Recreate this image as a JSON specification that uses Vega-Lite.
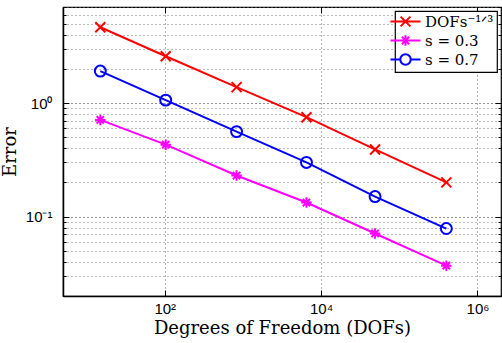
{
  "$schema": "https://vega.github.io/schema/vega-lite/v6.json",
  "width": 438,
  "height": 289,
  "autosize": {"type": "none"},
  "padding": {"left": 63, "top": 7, "right": 1, "bottom": 47},
  "background": "white",
  "config": {
    "view": {"stroke": "black", "strokeWidth": 1.2},
    "font": "Liberation Sans",
    "legend": {
      "strokeColor": "black", "strokeWidth": 1.2, "fillColor": "white",
      "labelFont": "DejaVu Serif", "labelFontSize": 15, "labelFontWeight": "normal", "labelColor": "black"
    }
  },
  "data": {
    "values": [
      {"series": "DOFs⁻¹ᐟ³", "dofs": 15, "error": 4.64},
      {"series": "DOFs⁻¹ᐟ³", "dofs": 103, "error": 2.58},
      {"series": "DOFs⁻¹ᐟ³", "dofs": 830, "error": 1.38},
      {"series": "DOFs⁻¹ᐟ³", "dofs": 6500, "error": 0.75},
      {"series": "DOFs⁻¹ᐟ³", "dofs": 49000, "error": 0.39},
      {"series": "DOFs⁻¹ᐟ³", "dofs": 400000, "error": 0.20},
      {"series": "s = 0.3", "dofs": 15, "error": 0.71},
      {"series": "s = 0.3", "dofs": 103, "error": 0.43},
      {"series": "s = 0.3", "dofs": 830, "error": 0.23},
      {"series": "s = 0.3", "dofs": 6500, "error": 0.133},
      {"series": "s = 0.3", "dofs": 49000, "error": 0.071},
      {"series": "s = 0.3", "dofs": 400000, "error": 0.037},
      {"series": "s = 0.7", "dofs": 15, "error": 1.91},
      {"series": "s = 0.7", "dofs": 103, "error": 1.06},
      {"series": "s = 0.7", "dofs": 830, "error": 0.56},
      {"series": "s = 0.7", "dofs": 6500, "error": 0.30},
      {"series": "s = 0.7", "dofs": 49000, "error": 0.15},
      {"series": "s = 0.7", "dofs": 400000, "error": 0.0785}
    ]
  },
  "layer": [
    {
      "mark": {"type": "line", "strokeWidth": 2},
      "encoding": {
        "x": {
          "field": "dofs", "type": "quantitative",
          "scale": {"type": "log", "domain": [5, 2000000], "nice": false},
          "axis": {
            "orient": "bottom",
            "values": [100, 10000, 1000000],
            "labelExpr": "datum.value == 100 ? '10²' : datum.value == 10000 ? '10⁴' : '10⁶'",
            "labelFontSize": 15, "labelColor": "black", "labelPadding": 11,
            "labelFlush": false,
            "ticks": true, "tickSize": -6, "tickColor": "black", "tickWidth": 1,
            "domain": true, "domainColor": "black", "domainWidth": 1.5,
            "grid": true, "gridDash": [1, 3], "gridColor": "#666", "gridWidth": 1, "gridOpacity": 1,
            "title": "Degrees of Freedom (DOFs)",
            "titleFont": "DejaVu Serif", "titleFontSize": 18, "titleFontWeight": "normal",
            "titleColor": "black", "titlePadding": 3
          }
        },
        "y": {
          "field": "error", "type": "quantitative",
          "scale": {"type": "log", "domain": [0.02, 7], "nice": false},
          "axis": {
            "orient": "left",
            "values": [0.02, 0.03, 0.04, 0.05, 0.06, 0.07, 0.08, 0.09, 0.1, 0.2, 0.3, 0.4, 0.5, 0.6, 0.7, 0.8, 0.9, 1, 2, 3, 4, 5, 6, 7],
            "labelExpr": "datum.value == 1 ? '10⁰' : datum.value == 0.1 ? '10⁻¹' : ''",
            "labelFontSize": 15, "labelColor": "black", "labelPadding": 17,
            "ticks": true,
            "tickSize": {"condition": {"test": "datum.value == 1 || datum.value == 0.1", "value": -6}, "value": -3},
            "tickColor": "black",
            "domain": true, "domainColor": "black", "domainWidth": 1.5,
            "grid": true, "gridDash": [1, 3],
            "gridColor": {"condition": {"test": "datum.value == 1 || datum.value == 0.1", "value": "#222"}, "value": "#777"},
            "gridWidth": 1, "gridOpacity": 1,
            "title": "Error",
            "titleFont": "DejaVu Serif", "titleFontSize": 18, "titleFontWeight": "normal",
            "titleColor": "black", "titlePadding": 6
          }
        },
        "color": {
          "field": "series", "type": "nominal",
          "scale": {"domain": ["DOFs⁻¹ᐟ³", "s = 0.3", "s = 0.7"], "range": ["#ff0000", "#ff00ff", "#0000ff"]},
          "legend": null
        }
      }
    },
    {
      "mark": {"type": "point", "filled": false, "strokeWidth": 2, "opacity": 1},
      "encoding": {
        "x": {
          "field": "dofs", "type": "quantitative",
          "scale": {"type": "log", "domain": [5, 2000000], "nice": false},
          "axis": {
            "orient": "top", "values": [100, 10000, 1000000], "labels": false,
            "ticks": true, "tickSize": -6, "tickColor": "black", "domain": false, "grid": false, "title": null
          }
        },
        "y": {
          "field": "error", "type": "quantitative",
          "scale": {"type": "log", "domain": [0.02, 7], "nice": false},
          "axis": {
            "orient": "right",
            "values": [0.02, 0.03, 0.04, 0.05, 0.06, 0.07, 0.08, 0.09, 0.1, 0.2, 0.3, 0.4, 0.5, 0.6, 0.7, 0.8, 0.9, 1, 2, 3, 4, 5, 6, 7],
            "labels": false,
            "ticks": true,
            "tickSize": {"condition": {"test": "datum.value == 1 || datum.value == 0.1", "value": -6}, "value": -3},
            "tickColor": "black", "domain": false, "grid": false, "title": null
          }
        },
        "color": {
          "field": "series", "type": "nominal",
          "scale": {"domain": ["DOFs⁻¹ᐟ³", "s = 0.3", "s = 0.7"], "range": ["#ff0000", "#ff00ff", "#0000ff"]},
          "legend": null
        },
        "shape": {
          "field": "series", "type": "nominal",
          "scale": {"domain": ["DOFs⁻¹ᐟ³", "s = 0.3", "s = 0.7"], "range": ["M-1,-1L1,1M-1,1L1,-1", "M-1,0L1,0M0,-1L0,1M-0.7,-0.7L0.7,0.7M-0.7,0.7L0.7,-0.7", "circle"]},
          "legend": null
        },
        "size": {
          "field": "series", "type": "nominal",
          "scale": {"domain": ["DOFs⁻¹ᐟ³", "s = 0.3", "s = 0.7"], "range": [100, 120, 144]},
          "legend": null
        }
      }
    },
    {
      "mark": {"type": "point", "filled": false, "strokeWidth": 2, "strokeOpacity": 0},
      "encoding": {
        "x": {"field": "dofs", "type": "quantitative", "scale": {"type": "log", "domain": [5, 2000000], "nice": false}, "axis": null},
        "y": {"field": "error", "type": "quantitative", "scale": {"type": "log", "domain": [0.02, 7], "nice": false}, "axis": null},
        "color": {
          "field": "series", "type": "nominal",
          "scale": {"domain": ["DOFs⁻¹ᐟ³", "s = 0.3", "s = 0.7"], "range": ["#ff0000", "#ff00ff", "#0000ff"]},
          "legend": {
            "orient": "top-right", "offset": 4, "title": null,
            "padding": 3,
            "labelFont": "DejaVu Serif", "labelFontSize": 15, "labelFontWeight": "normal", "labelColor": "black", "labelLimit": 300,
            "labelOffset": 12, "rowPadding": 0,
            "symbolSize": 150, "symbolStrokeWidth": 2, "symbolOpacity": 1
          }
        },
        "shape": {
          "field": "series", "type": "nominal",
          "scale": {"domain": ["DOFs⁻¹ᐟ³", "s = 0.3", "s = 0.7"], "range": ["M-2.45,0L2.45,0M-0.8,-0.8L0.8,0.8M-0.8,0.8L0.8,-0.8", "M-2.45,0L2.45,0M-0.85,0L0.85,0M0,-0.85L0,0.85M-0.6,-0.6L0.6,0.6M-0.6,0.6L0.6,-0.6", "M-2.45,0L-0.85,0M0.85,0L2.45,0M0.85,0A0.85,0.85,0,1,1,-0.85,0A0.85,0.85,0,1,1,0.85,0Z"]}
        }
      }
    }
  ],
  "resolve": {
    "axis": {"x": "independent", "y": "independent"},
    "scale": {"shape": "independent"},
    "legend": {"color": "independent", "shape": "independent"}
  }
}
